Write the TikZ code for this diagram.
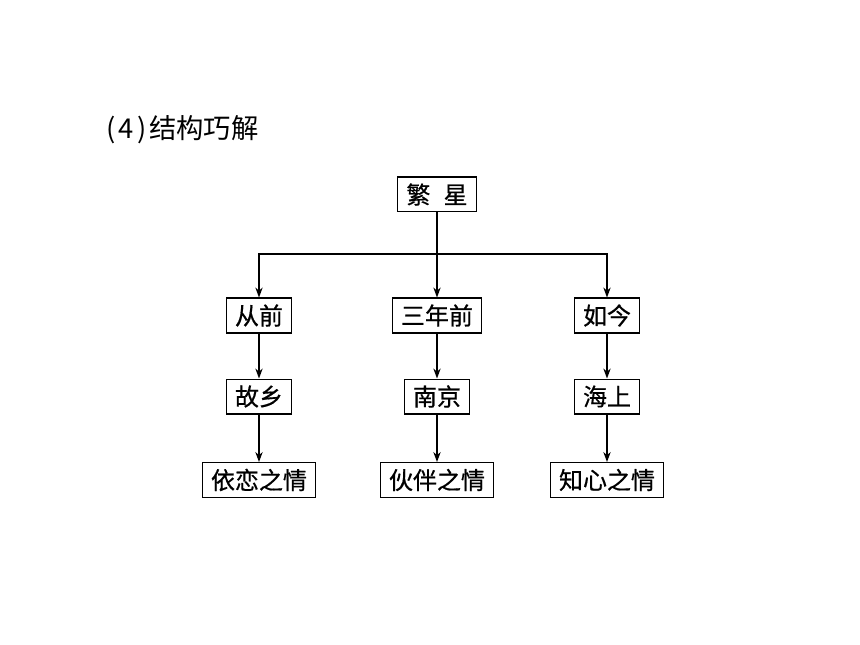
\documentclass[tikz,border=0pt]{standalone}
\usepackage{fontspec}
\usepackage{tikz}
\usetikzlibrary{arrows.meta}
\newfontfamily\cjk[FakeBold=0.6]{Noto Sans CJK SC}
\newfontfamily\cjktitle{Noto Sans CJK SC}
\tikzstyle{box}=[draw=black, line width=1pt, fill=white, font=\cjk\fontsize{18}{20}\selectfont, minimum height=26pt, inner xsep=6.5pt, inner ysep=0pt]
\tikzstyle{title}=[anchor=west, font=\cjktitle\fontsize{20.5}{22}\selectfont, inner sep=0pt]
\tikzstyle{arrow edge}=[-{Stealth[length=7.5pt,width=5.5pt]}, draw=black, line width=1pt]
\pgfdeclarelayer{nodelayer}
\pgfdeclarelayer{edgelayer}
\pgfsetlayers{edgelayer,nodelayer}

\begin{document}
\begin{tikzpicture}[x=0.75pt, y=-0.75pt]
	\useasboundingbox (0, 0) rectangle (860, 645);
	\begin{pgfonlayer}{nodelayer}
		\node [style=title] (t) at (106, 130) {(\kern0.12em4\kern0.12em)\kern0.1em结构巧解};
		\node [style=box] (0) at (437, 194.5) {繁\hspace{0.55em}星};
		\node [style=box] (1) at (259, 315.5) {从前};
		\node [style=box] (2) at (437, 315.5) {三年前};
		\node [style=box] (3) at (607, 315.5) {如今};
		\node [style=box] (4) at (259, 396.5) {故乡};
		\node [style=box] (5) at (437, 396.5) {南京};
		\node [style=box] (6) at (607, 396.5) {海上};
		\node [style=box] (7) at (259, 480) {依恋之情};
		\node [style=box] (8) at (437, 480) {伙伴之情};
		\node [style=box] (9) at (607, 480) {知心之情};
		\coordinate (bar) at (437, 254);
	\end{pgfonlayer}
	\begin{pgfonlayer}{edgelayer}
		\draw [style=arrow edge] (0) to (2);
		\draw [style=arrow edge] (bar) -| (1.north);
		\draw [style=arrow edge] (bar) -| (3.north);
		\foreach \a/\b in {1/4, 2/5, 3/6, 4/7, 5/8, 6/9}
			\draw [style=arrow edge] (\a) to (\b);
	\end{pgfonlayer}
\end{tikzpicture}
\end{document}
